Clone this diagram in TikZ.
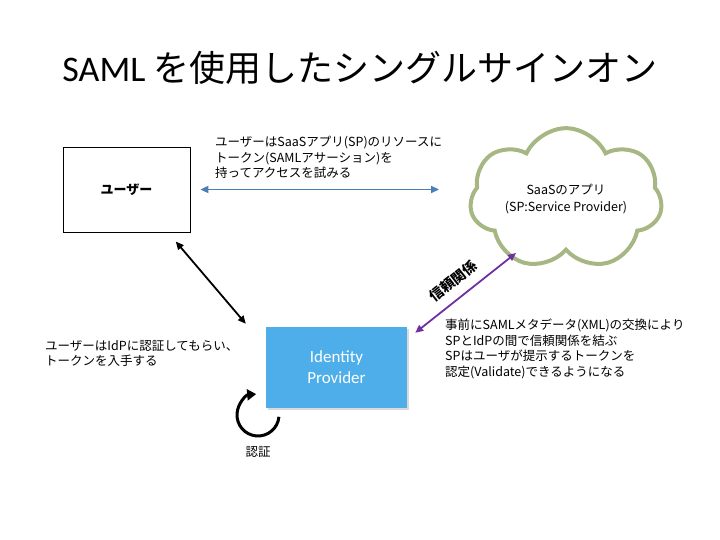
\documentclass[tikz,border=0pt]{standalone}
\usepackage{fontspec}
\setmainfont{Noto Sans CJK JP}
\newfontfamily\latinfont{Carlito}
\usetikzlibrary{arrows.meta,shapes.symbols,shadows,calc}
\definecolor{cloudgreen}{RGB}{166,183,132}
\definecolor{idpblue}{RGB}{78,174,234}
\definecolor{linkblue}{RGB}{74,126,187}
\definecolor{trustpurple}{RGB}{112,48,160}
\begin{document}
\begin{tikzpicture}[x=1pt,y=1pt,>={Triangle[length=8pt,width=7pt]},
  conn/.style={<->,line width=1.8pt},
  note/.style={align=left,anchor=north west,inner sep=0pt,font=\fontsize{12.5}{15.5}\selectfont}]
\useasboundingbox (0,0) rectangle (720,540);

\node (title) at (360,472) {\fontsize{36}{40}\selectfont{\latinfont SAML} を使用したシングルサインオン};

\node[draw,line width=0.8pt,minimum width=127pt,minimum height=85pt,font=\fontsize{13}{15}\selectfont\bfseries] (user) at (126.5,350.5) {ユーザー};

\node[cloud,cloud puffs=7,cloud puff arc=130,aspect=1.8,draw=cloudgreen,line width=4pt,minimum width=192pt,minimum height=104pt,align=center,font=\fontsize{12.5}{17}\selectfont] (saas) at (566,341) {SaaSのアプリ\\(SP:Service Provider)};

\node[fill=idpblue,minimum width=141pt,minimum height=81pt,align=center,text=white,drop shadow={opacity=0.3,shadow xshift=2pt,shadow yshift=-2pt},font=\latinfont\fontsize{17}{21}\selectfont] (idp) at (336.5,172.5) {Identity\\Provider};

% user <-> SaaS
\draw[conn,linkblue,shorten <=10pt,shorten >=30pt] (user.east) -- (user.east -| saas.west);
\node[note] (tokentext) at (215,404) {ユーザーはSaaSアプリ(SP)のリソースに\\トークン(SAMLアサーション)を\\持ってアクセスを試みる};

% user <-> IdP
\coordinate (userfoot) at ($(user.south)+(41.5,0)$);
\coordinate (idpcorner) at ($(idp.north west)+(-20,3)$);
\draw[conn,black,shorten <=12pt] (userfoot) -- (idpcorner);
\node[note] (authtext) at (45,200) {ユーザーはIdPに認証してもらい、\\トークンを入手する};

% IdP <-> SaaS
\coordinate (idptop) at ($(idp.north east)+(8,-6)$);
\coordinate (saasfoot) at ($(saas.center)+(-50,-54)$);
\draw[conn,trustpurple] (idptop) -- (saasfoot);
\node[rotate=38.4,font=\fontsize{14}{16}\selectfont\bfseries] (trust) at (453,259) {信頼関係};
\node[note] (metatext) at (445,221) {事前にSAMLメタデータ(XML)の交換により\\SPとIdPの間で信頼関係を結ぶ\\SPはユーザが提示するトークンを\\認定(Validate)できるようになる};

% self authentication
\coordinate (loop) at (258,125);
\draw[->,line width=3pt,>={Triangle[length=9pt,width=11pt]}] ($(loop)+(-5:21)$) arc[start angle=-5,end angle=-265,radius=21];
\node[font=\fontsize{12.5}{14}\selectfont] (authlabel) at (258,88) {認証};
\end{tikzpicture}
\end{document}
